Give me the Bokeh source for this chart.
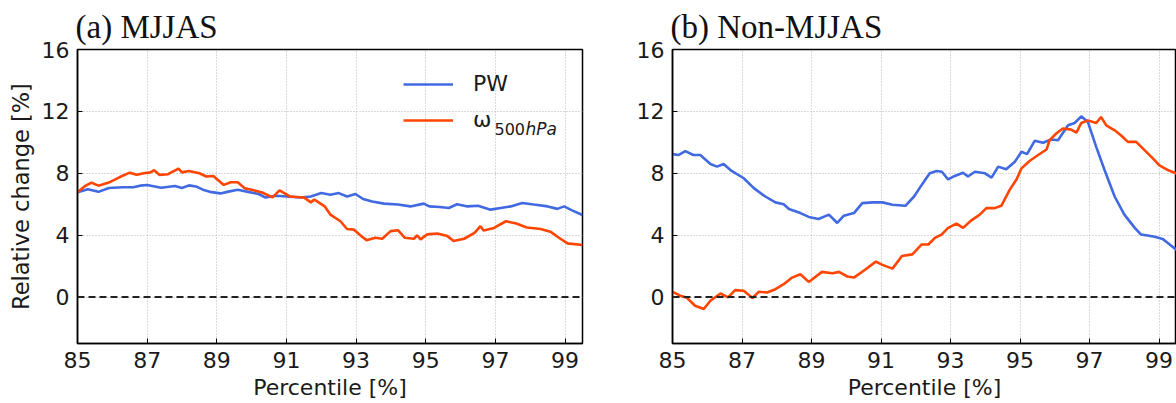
from bokeh.plotting import figure
from bokeh.layouts import row
from bokeh.models import Range1d, FixedTicker, Span, Legend, LegendItem, Label
from bokeh.embed import file_html
from bokeh.resources import INLINE

# ---------------- data ----------------
x_ticks = [85, 87, 89, 91, 93, 95, 97, 99]
y_ticks = [0, 4, 8, 12, 16]
zero_level = 0

titles = ["(a) MJJAS", "(b) Non-MJJAS"]
x_title = "Percentile [%]"
y_title = "Relative change [%]"
series_names = ["PW", "ω"]
omega_subscript_num = "500"
omega_subscript_unit = "hPa"

# (a) MJJAS - PW
a_pw_x = [85.0, 85.3, 85.6, 85.9, 86.3, 86.6, 86.8, 87.0, 87.4, 87.8, 88.0, 88.2, 88.4, 88.6,
          88.8, 89.1, 89.3, 89.6, 89.9, 90.2, 90.4, 90.7, 91.0, 91.4, 91.7, 92.0, 92.26, 92.5,
          92.74, 92.98, 93.2, 93.46, 93.8, 94.2, 94.56, 94.94, 95.1, 95.4, 95.66, 95.9, 96.2,
          96.5, 96.86, 97.15, 97.44, 97.77, 98.1, 98.5, 98.78, 98.97, 99.2, 99.5]
a_pw_y = [6.78, 6.97, 6.8, 7.05, 7.1, 7.1, 7.2, 7.24, 7.07, 7.18, 7.05, 7.22, 7.15, 6.94,
          6.8, 6.7, 6.8, 6.94, 6.8, 6.66, 6.43, 6.55, 6.5, 6.44, 6.5, 6.72, 6.61, 6.72,
          6.5, 6.66, 6.34, 6.18, 6.04, 5.98, 5.86, 6.04, 5.86, 5.82, 5.76, 6.0, 5.86,
          5.9, 5.65, 5.76, 5.86, 6.08, 5.98, 5.86, 5.7, 5.86, 5.6, 5.3]

# (a) MJJAS - omega 500hPa
a_om_x = [85.0, 85.2, 85.4, 85.6, 85.9, 86.2, 86.5, 86.7, 86.9, 87.1, 87.2, 87.35, 87.6, 87.9,
          88.0, 88.2, 88.5, 88.7, 88.9, 89.2, 89.4, 89.6, 89.8, 90.0, 90.3, 90.6, 90.8, 90.9,
          91.1, 91.5, 91.7, 91.8, 92.1, 92.26, 92.55, 92.74, 92.93, 93.17, 93.3, 93.55, 93.75,
          93.99, 94.2, 94.4, 94.66, 94.75, 94.85, 95.04, 95.33, 95.62, 95.8, 96.1, 96.4, 96.57,
          96.66, 96.96, 97.3, 97.6, 97.9, 98.3, 98.6, 98.78, 99.07, 99.5]
a_om_y = [6.78, 7.15, 7.4, 7.2, 7.4, 7.74, 8.04, 7.9, 8.0, 8.06, 8.2, 7.9, 7.94, 8.3,
          8.06, 8.15, 8.0, 7.79, 7.83, 7.25, 7.42, 7.42, 7.04, 6.94, 6.76, 6.44, 6.9, 6.76,
          6.5, 6.44, 6.12, 6.3, 5.86, 5.33, 4.9, 4.4, 4.36, 3.9, 3.68, 3.83, 3.77,
          4.26, 4.32, 3.83, 3.77, 3.98, 3.73, 4.05, 4.11, 3.94, 3.62, 3.77, 4.15, 4.58,
          4.3, 4.47, 4.9, 4.75, 4.5, 4.4, 4.2, 3.9, 3.47, 3.37]

# (b) Non-MJJAS - PW
b_pw_x = [85.0, 85.17, 85.37, 85.6, 85.8, 86.09, 86.28, 86.47, 86.7, 87.05, 87.34, 87.67, 87.96,
          88.2, 88.35, 88.68, 88.92, 89.2, 89.5, 89.74, 89.93, 90.22, 90.46, 90.75, 91.04, 91.33,
          91.7, 91.95, 92.17, 92.4, 92.6, 92.75, 92.93, 93.12, 93.36, 93.5, 93.7, 93.99, 94.18,
          94.37, 94.6, 94.85, 95.04, 95.2, 95.42, 95.66, 95.9, 96.09, 96.38, 96.57, 96.76, 96.95,
          97.19, 97.43, 97.72, 98.0, 98.3, 98.48, 98.67, 98.87, 99.1, 99.25, 99.5]
b_pw_y = [9.24, 9.18, 9.43, 9.18, 9.18, 8.6, 8.43, 8.6, 8.15, 7.68, 7.04, 6.5, 6.12,
          6.0, 5.69, 5.43, 5.18, 5.05, 5.33, 4.79, 5.26, 5.43, 6.07, 6.12, 6.12, 5.97,
          5.9, 6.5, 7.25, 8.0, 8.15, 8.1, 7.6, 7.83, 8.04, 7.79, 8.1, 8.0, 7.72,
          8.43, 8.26, 8.75, 9.39, 9.24, 10.1, 9.97, 10.18, 10.14, 11.1, 11.25, 11.68, 11.32,
          9.71, 8.21, 6.5, 5.33, 4.47, 4.04, 3.98, 3.9, 3.76, 3.5, 3.05]

# (b) Non-MJJAS - omega 500hPa
b_om_x = [85.0, 85.22, 85.4, 85.65, 85.9, 86.09, 86.38, 86.6, 86.8, 87.05, 87.3, 87.48, 87.72,
          87.96, 88.2, 88.44, 88.68, 88.92, 89.3, 89.6, 89.79, 90.03, 90.22, 90.56, 90.85, 91.04,
          91.33, 91.6, 91.9, 92.17, 92.36, 92.55, 92.74, 92.93, 93.17, 93.36, 93.6, 93.84, 94.03,
          94.27, 94.46, 94.7, 94.9, 95.04, 95.28, 95.52, 95.76, 95.85, 96.04, 96.23, 96.47, 96.62,
          96.76, 96.95, 97.19, 97.33, 97.48, 97.72, 97.9, 98.1, 98.34, 98.58, 98.82, 99.0, 99.25, 99.5]
b_om_y = [0.34, 0.09, -0.02, -0.56, -0.77, -0.24, 0.23, -0.02, 0.45, 0.41, -0.06, 0.34, 0.3,
          0.51, 0.83, 1.26, 1.48, 0.98, 1.63, 1.54, 1.63, 1.33, 1.26, 1.8, 2.29, 2.08,
          1.84, 2.65, 2.76, 3.4, 3.4, 3.83, 4.04, 4.47, 4.75, 4.47, 4.96, 5.33, 5.75,
          5.75, 5.9, 6.93, 7.61, 8.32, 8.81, 9.18, 9.54, 10.14, 10.57, 10.89, 10.82, 10.63,
          11.25, 11.42, 11.25, 11.64, 11.1, 10.78, 10.46, 10.03, 10.03, 9.5, 8.96, 8.53, 8.21, 7.98]

PW_COLOR = "#4169e1"
OM_COLOR = "#ff4500"
SANS = "DejaVu Sans"
TEXT_COLOR = "#1a1a1a"


def make_panel(title, width, left, right, ylabel):
    p = figure(width=width, height=403, x_range=Range1d(85, 99.5), y_range=Range1d(-3, 16),
               output_backend="svg", toolbar_location=None,
               min_border_left=left, min_border_right=right,
               min_border_top=49, min_border_bottom=60)
    p.title.text = title
    p.title.text_font = "Liberation Serif"
    p.title.text_font_size = "33px"
    p.title.text_font_style = "normal"
    p.title.text_color = "#111111"
    p.title.standoff = 10
    p.title.offset = -2

    p.outline_line_color = "black"
    p.outline_line_width = 1.5
    p.outline_line_alpha = 1

    p.xaxis.ticker = FixedTicker(ticks=x_ticks, minor_ticks=[])
    p.yaxis.ticker = FixedTicker(ticks=y_ticks, minor_ticks=[])
    for ax in (p.xaxis, p.yaxis):
        ax.major_tick_in = 5
        ax.major_tick_out = 0
        ax.minor_tick_in = 0
        ax.minor_tick_out = 0
        ax.axis_line_color = "black"
        ax.axis_line_width = 1.5
        ax.major_tick_line_color = "black"
        ax.major_label_text_font = SANS
        ax.major_label_text_font_size = "22px"
        ax.major_label_text_color = TEXT_COLOR
        ax.axis_label_text_font = SANS
        ax.axis_label_text_font_style = "normal"
        ax.axis_label_text_color = TEXT_COLOR
    p.yaxis.major_label_standoff = 8
    p.yaxis.axis_label_text_font_size = "22.5px"
    p.xaxis.axis_label_text_font_size = "22px"
    p.xaxis.major_label_standoff = 8
    p.xaxis.axis_label = x_title
    p.xaxis.axis_label_standoff = 4
    if ylabel:
        p.yaxis.axis_label = ylabel
        p.yaxis.axis_label_standoff = 5

    p.xgrid.ticker = FixedTicker(ticks=x_ticks)
    p.ygrid.ticker = FixedTicker(ticks=y_ticks)
    for g in (p.xgrid, p.ygrid):
        g.grid_line_color = "#b5b5b5"
        g.grid_line_dash = "1 2"
        g.grid_line_width = 1

    p.add_layout(Span(location=zero_level, dimension="width", line_color="#222222",
                      line_dash="7 4", line_width=2))
    return p


p1 = make_panel(titles[0], 600, 77, 18, y_title)
r1 = p1.line(a_pw_x, a_pw_y, line_color=PW_COLOR, line_width=2.6)
r2 = p1.line(a_om_x, a_om_y, line_color=OM_COLOR, line_width=2.6)

legend = Legend(items=[LegendItem(label=series_names[0], renderers=[r1]),
                       LegendItem(label=series_names[1], renderers=[r2])],
                location=(326, 211), orientation="vertical",
                border_line_color=None, background_fill_alpha=0,
                padding=0, margin=0, spacing=11,
                glyph_width=50, glyph_height=20, label_standoff=20,
                label_text_font=SANS, label_text_font_size="22px",
                label_text_color=TEXT_COLOR)
p1.add_layout(legend)

p1.add_layout(Label(x=417, y=215, x_units="screen", y_units="screen",
                    text=omega_subscript_num, text_font=SANS, text_font_size="16px",
                    text_color=TEXT_COLOR, text_baseline="alphabetic"))
p1.add_layout(Label(x=448, y=215, x_units="screen", y_units="screen",
                    text=omega_subscript_unit, text_font=SANS, text_font_size="17px",
                    text_font_style="italic",
                    text_color=TEXT_COLOR, text_baseline="alphabetic"))

p2 = make_panel(titles[1], 576, 72, 0, None)
p2.line(b_pw_x, b_pw_y, line_color=PW_COLOR, line_width=2.6)
p2.line(b_om_x, b_om_y, line_color=OM_COLOR, line_width=2.6)

layout = row(p1, p2)
open("out.html", "w").write(file_html(layout, INLINE))
